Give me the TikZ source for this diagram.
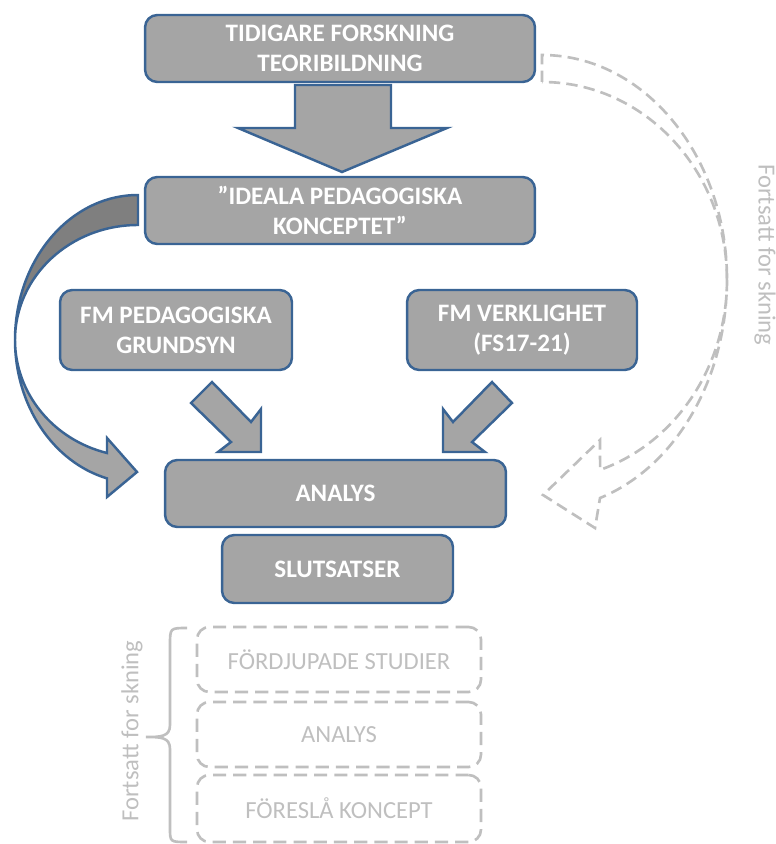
\documentclass[tikz,border=0pt]{standalone}
\usepackage{fontspec}
\setmainfont{Carlito}
\usetikzlibrary{positioning}

\definecolor{boxgray}{HTML}{A5A5A5}
\definecolor{backgray}{HTML}{7F7F7F}
\definecolor{boxblue}{HTML}{3A6494}
\definecolor{fadegray}{HTML}{BFBFBF}

\tikzset{
  stage/.style={draw=boxblue, line width=1.4pt, fill=boxgray, rounded corners=7pt, align=center,
    text=white, font=\fontsize{14.3}{17}\selectfont\bfseries, inner sep=0pt},
  later/.style={draw=fadegray, line width=1.5pt, dash pattern=on 7.5pt off 4pt, rounded corners=7pt,
    text=fadegray, font=\fontsize{14}{16}\selectfont, inner sep=0pt, minimum width=5.68cm, minimum height=1.3cm},
  blockarrow/.style={draw=boxblue, line width=1.4pt, fill=boxgray, line join=miter},
  backflow/.style={draw=fadegray, line width=1.5pt, dash pattern=on 6.5pt off 3.5pt, line join=miter},
  sidenote/.style={text=fadegray, font=\fontsize{14}{16}\selectfont, inner sep=0pt}
}

\begin{document}
\begin{tikzpicture}[x=0.02cm, y=-0.02cm]
  \useasboundingbox (0,0) rectangle (776,844);

  % Theory and ideal concept
  \node[stage, minimum width=7.8cm, minimum height=1.34cm] (prior) at (340,48.5) {TIDIGARE FORSKNING\\TEORIBILDNING};
  \node[stage, minimum width=7.8cm, minimum height=1.34cm] (ideal) at (340,210.5) {”IDEALA PEDAGOGISKA\\KONCEPTET”};

  % Big arrow down
  \draw[blockarrow] (295,85) -- (391,85) -- (391,128) -- (447,128) -- (342,172) -- (238,128) -- (295,128) -- cycle;

  % FM views
  \node[stage, minimum width=4.64cm, minimum height=1.6cm] (view) at (176,330) {FM PEDAGOGISKA\\GRUNDSYN};
  \node[stage, minimum width=4.6cm, minimum height=1.6cm] (real) at (522,330) {FM VERKLIGHET\\(FS17-21)};

  % Diagonal arrows into analysis
  \draw[blockarrow] (191,403) -- (212,382) -- (251,422) -- (261,409) -- (261,452) -- (218,452) -- (231,442) -- cycle;
  \draw[blockarrow] (512,403) -- (492,382) -- (453,422) -- (443,409) -- (443,452) -- (485,452) -- (472,442) -- cycle;

  % Analysis and conclusions
  \node[stage, minimum width=6.82cm, minimum height=1.34cm] (analys) at (335.5,493.5) {ANALYS};
  \node[stage, minimum width=4.62cm, minimum height=1.36cm] (concl) at (337.5,569) {SLUTSATSER};

  % Curved arrow from ideal concept
  \draw[blockarrow, fill=backgray] (138,195) arc[start angle=270, end angle=180, x radius=123, y radius=145]
    arc[start angle=180, end angle=270, x radius=123, y radius=115] -- cycle;
  \draw[blockarrow] (15,340) arc[start angle=180, end angle=104.6, x radius=123, y radius=143]
    -- (107,497) -- (137,472) -- (107,438) -- (107,453)
    arc[start angle=104.6, end angle=180, x radius=123, y radius=117] -- cycle;

  % Dashed loop back (continued research)
  \draw[backflow] (542,82) -- (542,55) arc[start angle=270, end angle=360, x radius=185, y radius=225]
    arc[start angle=0, end angle=-90, x radius=185, y radius=198] -- cycle;
  \draw[backflow] (727,280) arc[start angle=0, end angle=71.7, x radius=185, y radius=200]
    -- (600,440) -- (543,495) -- (595,528) -- (600,498)
    arc[start angle=71.7, end angle=0, x radius=185, y radius=230] -- cycle;
  \node[sidenote, rotate=-90] (noteR) at (765,255) {Fortsatt for skning};

  % Future steps
  \node[later] (deep) at (339,659.5) {FÖRDJUPADE STUDIER};
  \node[later] (analys2) at (339,734.5) {ANALYS};
  \node[later, minimum height=1.34cm] (propose) at (339,808.5) {FÖRESLÅ KONCEPT};

  % Brace
  \draw[fadegray, line width=1.5pt] (187,628) .. controls (170,628) .. (170,645) -- (170,725)
    .. controls (170,737) and (160,737) .. (146,737) .. controls (160,737) and (170,737) .. (170,749)
    -- (170,828) .. controls (170,842) .. (187,842);
  \node[sidenote, rotate=90] (noteL) at (132,731) {Fortsatt for skning};
\end{tikzpicture}
\end{document}
